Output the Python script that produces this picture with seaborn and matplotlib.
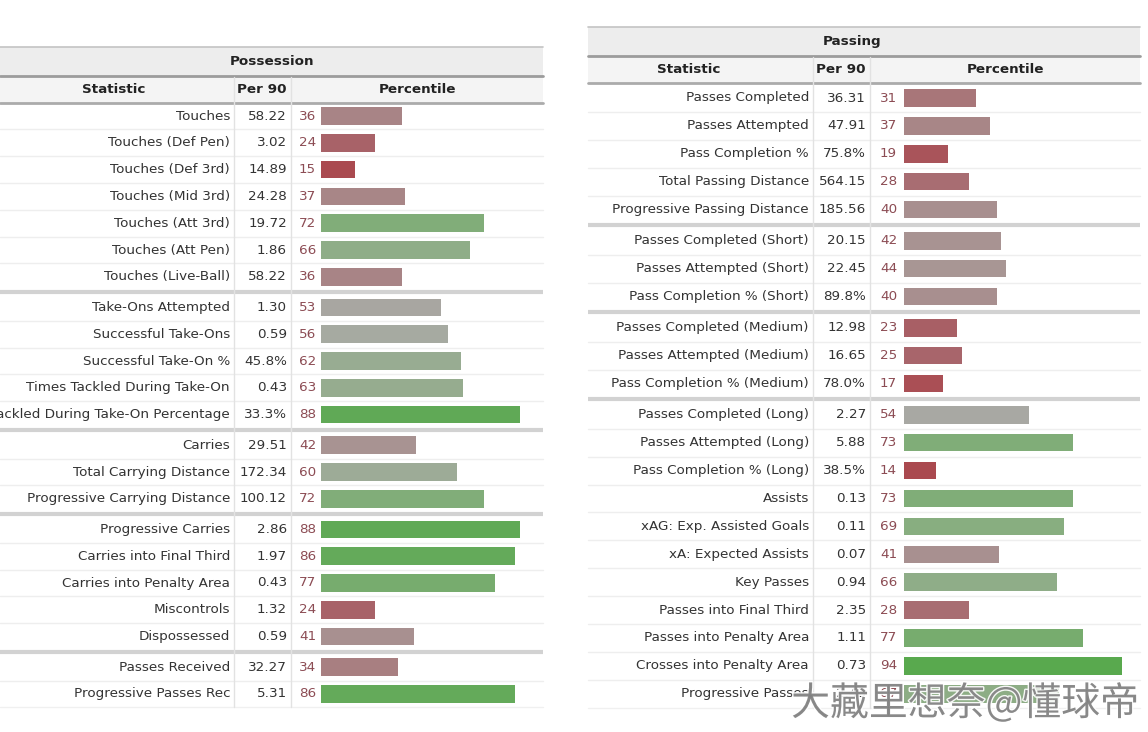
import numpy as np
import pandas as pd
import seaborn as sns
import matplotlib.pyplot as plt
from matplotlib.colors import LinearSegmentedColormap
from matplotlib import patheffects

# ---- data ----
poss_stats = ['Touches', 'Touches (Def Pen)', 'Touches (Def 3rd)', 'Touches (Mid 3rd)',
              'Touches (Att 3rd)', 'Touches (Att Pen)', 'Touches (Live-Ball)',
              'Take-Ons Attempted', 'Successful Take-Ons', 'Successful Take-On %',
              'Times Tackled During Take-On', 'Tackled During Take-On Percentage',
              'Carries', 'Total Carrying Distance', 'Progressive Carrying Distance',
              'Progressive Carries', 'Carries into Final Third', 'Carries into Penalty Area',
              'Miscontrols', 'Dispossessed',
              'Passes Received', 'Progressive Passes Rec']
poss_per90 = ['58.22', '3.02', '14.89', '24.28', '19.72', '1.86', '58.22',
              '1.30', '0.59', '45.8%', '0.43', '33.3%',
              '29.51', '172.34', '100.12',
              '2.86', '1.97', '0.43', '1.32', '0.59',
              '32.27', '5.31']
poss_pct = [36, 24, 15, 37, 72, 66, 36,
            53, 56, 62, 63, 88,
            42, 60, 72,
            88, 86, 77, 24, 41,
            34, 86]
poss_groups = [7, 5, 3, 5, 2]

pass_stats = ['Passes Completed', 'Passes Attempted', 'Pass Completion %',
              'Total Passing Distance', 'Progressive Passing Distance',
              'Passes Completed (Short)', 'Passes Attempted (Short)', 'Pass Completion % (Short)',
              'Passes Completed (Medium)', 'Passes Attempted (Medium)', 'Pass Completion % (Medium)',
              'Passes Completed (Long)', 'Passes Attempted (Long)', 'Pass Completion % (Long)',
              'Assists', 'xAG: Exp. Assisted Goals', 'xA: Expected Assists', 'Key Passes',
              'Passes into Final Third', 'Passes into Penalty Area', 'Crosses into Penalty Area',
              'Progressive Passes']
pass_per90 = ['36.31', '47.91', '75.8%', '564.15', '185.56',
              '20.15', '22.45', '89.8%',
              '12.98', '16.65', '78.0%',
              '2.27', '5.88', '38.5%', '0.13', '0.11', '0.07', '0.94',
              '2.35', '1.11', '0.73', '2.43']
pass_pct = [31, 37, 19, 28, 40,
            42, 44, 40,
            23, 25, 17,
            54, 73, 14, 73, 69, 41, 66, 28, 77, 94, 67]
pass_groups = [5, 3, 3, 11]

W, H = 1148, 732
cmap = LinearSegmentedColormap.from_list('pct', [
    (0.00, '#ab3f45'), (0.15, '#aa4a50'), (0.25, '#a8656b'), (0.40, '#a88f8f'),
    (0.55, '#a8aaa4'), (0.70, '#86ae7e'), (0.90, '#5ca952'), (1.00, '#55a849')])

sns.set_theme(style='white')
plt.rcParams['font.family'] = ['DejaVu Sans', 'Noto Sans CJK SC']

fig = plt.figure(figsize=(W / 100, H / 100), dpi=100)
fig.patch.set_facecolor('white')
bg = fig.add_axes([0, 0, 1, 1])
bg.set_xlim(0, W)
bg.set_ylim(H, 0)
bg.axis('off')

TXT = '#333333'
FS = 9.7


def row_positions(groups, y0, step, gap):
    ys, y = [], y0
    for n in groups:
        for _ in range(n):
            ys.append(y)
            y += step
        y += gap
    return np.array(ys)


def draw_panel(title, stats, per90, pct, groups, cfg):
    left, right, top = cfg['left'], cfg['right'], cfg['top']
    c1, c2 = cfg['c1'], cfg['c2']
    step, gap = cfg['step'], cfg['gap']
    ys = row_positions(groups, cfg['y0'], step, gap)
    hdr_top = top + cfg['title_h']
    hdr_bot = hdr_top + cfg['hdr_h']

    # header bands
    bg.fill_between([left, right], top, hdr_top, color='#ededed', lw=0)
    bg.fill_between([left, right], hdr_top, hdr_bot, color='#f4f4f4', lw=0)
    bg.plot([left, right], [top, top], color='#c4c4c4', lw=1.2)
    bg.plot([left, right], [hdr_top, hdr_top], color='#9c9c9c', lw=2)
    bg.plot([left, right], [hdr_bot, hdr_bot], color='#ababab', lw=2)
    bg.text(cfg['title_x'], (top + hdr_top) / 2, title, ha='center', va='center',
            fontsize=FS, fontweight='bold', color='#222222')
    for lab, x in zip(['Statistic', 'Per 90', 'Percentile'], cfg['hdr_x']):
        bg.text(x, (hdr_top + hdr_bot) / 2, lab, ha='center', va='center',
                fontsize=FS, fontweight='bold', color='#222222')

    # row lines
    bottom = ys[-1] + step / 2
    ends = np.cumsum(groups) - 1
    for i, y in enumerate(ys[:-1]):
        if i in ends:
            sy = (y + ys[i + 1]) / 2
            bg.plot([left, right], [sy, sy], color='#d2d2d2', lw=3, solid_capstyle='butt')
        else:
            sy = y + step / 2
            bg.plot([left, right], [sy, sy], color='#eeeeee', lw=1)
    bg.plot([left, right], [bottom, bottom], color='#f0f0f0', lw=1)
    for cx in (c1, c2):
        bg.plot([cx, cx], [hdr_top + 1, bottom], color='#e2e2e2', lw=1)

    # texts
    for y, s, v, p in zip(ys, stats, per90, pct):
        bg.text(c1 - 4, y, s, ha='right', va='center', fontsize=FS, color=TXT)
        bg.text(c2 - 4, y, v, ha='right', va='center', fontsize=FS, color=TXT)
        bg.text(cfg['pct_x'], y, str(p), ha='left', va='center', fontsize=FS, color='#8c4c54')

    # bars
    ax = fig.add_axes([cfg['bar0'] / W, 0, (cfg['bar100'] - cfg['bar0']) / W, 1])
    df = pd.DataFrame({'stat': stats, 'pct': pct, 'y': ys})
    colors = [cmap(p / 100) for p in pct]
    sns.barplot(data=df, x='pct', y='y', hue='stat', hue_order=stats, palette=colors,
                orient='h', native_scale=True, dodge=False, legend=False,
                width=17.5 / step, saturation=1, linewidth=0, ax=ax)
    ax.set_xlim(0, 100)
    ax.set_ylim(H, 0)
    ax.axis('off')
    ax.patch.set_alpha(0)


draw_panel('Possession', poss_stats, poss_per90, poss_pct, poss_groups, dict(
    left=0, right=543, top=47, title_h=29, hdr_h=27, title_x=272,
    hdr_x=[114, 262, 418], c1=234, c2=291, pct_x=299,
    bar0=321, bar100=547, y0=116, step=26.8, gap=3.8))

draw_panel('Passing', pass_stats, pass_per90, pass_pct, pass_groups, dict(
    left=588, right=1140, top=27, title_h=29, hdr_h=27, title_x=852,
    hdr_x=[689, 841, 1005], c1=813, c2=870, pct_x=880,
    bar0=904, bar100=1136, y0=98, step=27.9, gap=3.3))

# watermark
fig.text(965 / W, 1 - 704 / H, '大藏里想奈@懂球帝', ha='center', va='center',
         fontsize=28, color='#808080', alpha=0.92,
         family=['Noto Sans CJK SC', 'DejaVu Sans'], zorder=10,
         path_effects=[patheffects.withStroke(linewidth=2, foreground='white')])

fig.savefig('out.png', dpi=100, facecolor='white')
